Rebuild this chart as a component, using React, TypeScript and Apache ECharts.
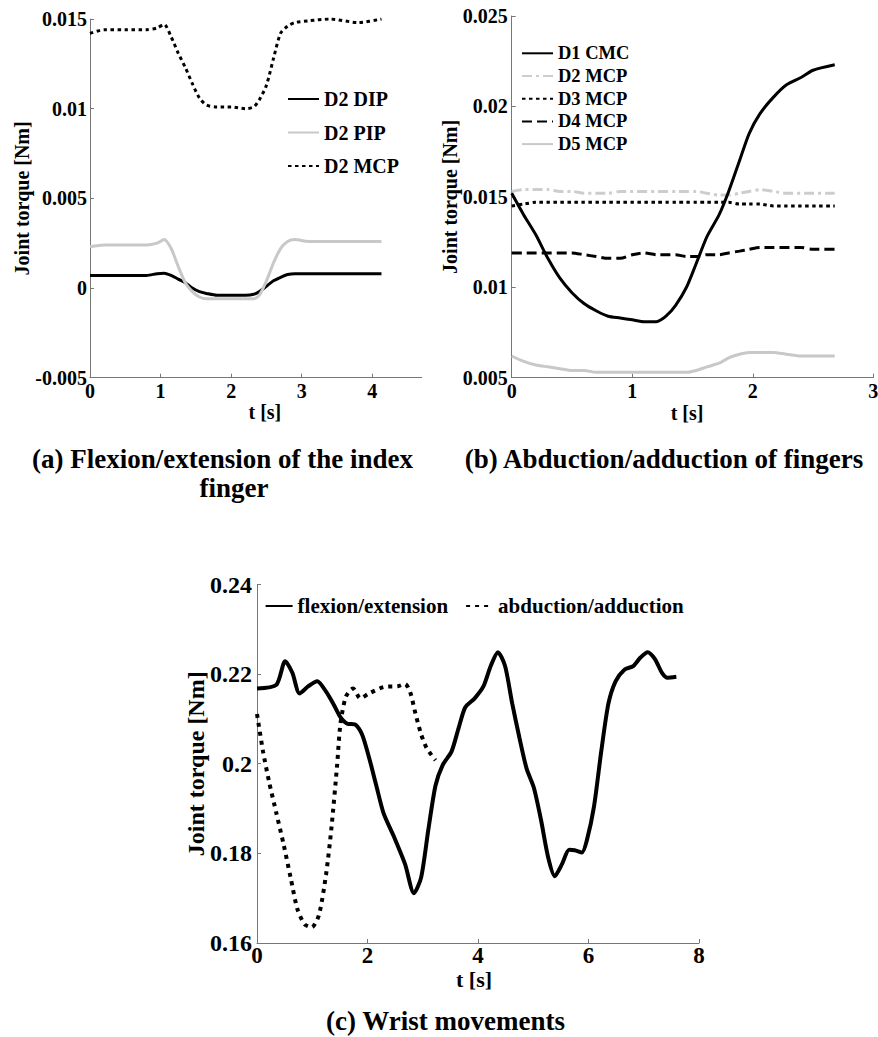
import React, { useEffect, useRef } from "react";
import * as echarts from "echarts";

const FONT = '"Times New Roman", "Liberation Serif", serif';

// ---------- Panel (a): flexion/extension of the index finger ----------
const aTime = [0, 0.2, 0.5, 0.8, 0.95, 1.05, 1.15, 1.25, 1.35, 1.45, 1.55, 1.65, 1.8, 2.0, 2.2, 2.32, 2.4, 2.5, 2.6, 2.7, 2.8, 2.9, 3.1, 3.4, 3.8, 4.13];
const aDIP = [0.0007, 0.0007, 0.0007, 0.0007, 0.0008, 0.00083, 0.0007, 0.0005, 0.0003, 0.0, -0.0002, -0.0003, -0.0004, -0.0004, -0.0004, -0.00035, -0.0002, 0.0001, 0.0004, 0.0006, 0.00075, 0.0008, 0.0008, 0.0008, 0.0008, 0.0008];
const aPIP = [0.0023, 0.0024, 0.0024, 0.0024, 0.0025, 0.0027, 0.0022, 0.0012, 0.0003, -0.0002, -0.0005, -0.0006, -0.0006, -0.0006, -0.0006, -0.0006, -0.0004, 0.0004, 0.0014, 0.0022, 0.0026, 0.0027, 0.0026, 0.0026, 0.0026, 0.0026];
const aMCP = [0.0142, 0.0144, 0.0144, 0.0144, 0.0145, 0.0147, 0.014, 0.0131, 0.0123, 0.0114, 0.0106, 0.0102, 0.0101, 0.0101, 0.01, 0.0101, 0.0105, 0.0113, 0.0128, 0.0142, 0.0146, 0.0148, 0.0149, 0.015, 0.0148, 0.015];
const aXTicks = [0, 1, 2, 3, 4];

// ---------- Panel (b): abduction/adduction of fingers ----------
const bTime = [0, 0.1, 0.2, 0.3, 0.4, 0.5, 0.6, 0.7, 0.8, 0.9, 1.0, 1.1, 1.2, 1.28, 1.36, 1.45, 1.53, 1.62, 1.72, 1.8, 1.89, 1.97, 2.06, 2.17, 2.28, 2.4, 2.5, 2.68];
const bD1CMC = [0.0152, 0.014, 0.0129, 0.0116, 0.0105, 0.0097, 0.0091, 0.0087, 0.0084, 0.0083, 0.0082, 0.0081, 0.0081, 0.0084, 0.009, 0.01, 0.0113, 0.0128, 0.014, 0.0153, 0.017, 0.0185, 0.0196, 0.0205, 0.0212, 0.0216, 0.022, 0.0223];
const bD2MCP = [0.0153, 0.0154, 0.0154, 0.0154, 0.0153, 0.0153, 0.0152, 0.0152, 0.0152, 0.0153, 0.0153, 0.0153, 0.0153, 0.0153, 0.0153, 0.0153, 0.0153, 0.0152, 0.0151, 0.0151, 0.0152, 0.0153, 0.0154, 0.0153, 0.0152, 0.0152, 0.0152, 0.0152];
const bD3MCP = [0.0145, 0.0146, 0.0147, 0.0147, 0.0147, 0.0147, 0.0147, 0.0147, 0.0147, 0.0147, 0.0147, 0.0147, 0.0147, 0.0147, 0.0147, 0.0147, 0.0147, 0.0147, 0.0147, 0.0147, 0.0146, 0.0146, 0.0146, 0.0145, 0.0145, 0.0145, 0.0145, 0.0145];
const bD4MCP = [0.0119, 0.0119, 0.0119, 0.0119, 0.0119, 0.0119, 0.0118, 0.0117, 0.0116, 0.0116, 0.0118, 0.0119, 0.0118, 0.0118, 0.0118, 0.0117, 0.0117, 0.0118, 0.0118, 0.0119, 0.012, 0.0121, 0.0122, 0.0122, 0.0122, 0.0122, 0.0121, 0.0121];
const bD5MCP = [0.0062, 0.0059, 0.0057, 0.0056, 0.0055, 0.0054, 0.0054, 0.0053, 0.0053, 0.0053, 0.0053, 0.0053, 0.0053, 0.0053, 0.0053, 0.0053, 0.0054, 0.0056, 0.0058, 0.0061, 0.0063, 0.0064, 0.0064, 0.0064, 0.0063, 0.0062, 0.0062, 0.0062];

// ---------- Panel (c): wrist movements ----------
const cFlexTime = [0, 0.35, 0.51, 0.64, 0.77, 0.93, 1.09, 1.25, 1.38, 1.51, 1.64, 1.77, 1.9, 2.03, 2.16, 2.29, 2.48, 2.68, 2.84, 2.97, 3.1, 3.23, 3.36, 3.52, 3.65, 3.77, 3.94, 4.1, 4.23, 4.36, 4.49, 4.62, 4.75, 4.88, 5.01, 5.14, 5.27, 5.39, 5.52, 5.65, 5.75, 5.88, 5.97, 6.1, 6.23, 6.36, 6.49, 6.65, 6.81, 6.94, 7.07, 7.2, 7.33, 7.43, 7.59];
const cFlex = [0.2168, 0.2176, 0.2229, 0.2203, 0.2157, 0.2173, 0.2184, 0.2161, 0.2134, 0.2104, 0.2089, 0.2088, 0.2066, 0.2013, 0.1951, 0.189, 0.1837, 0.1776, 0.1711, 0.1746, 0.1852, 0.1951, 0.1997, 0.2027, 0.208, 0.2126, 0.2146, 0.2173, 0.2218, 0.2249, 0.2218, 0.2134, 0.2058, 0.1989, 0.1947, 0.1875, 0.1791, 0.1749, 0.1776, 0.1808, 0.1807, 0.1802, 0.1829, 0.1905, 0.2027, 0.2134, 0.2184, 0.221, 0.2218, 0.2237, 0.2249, 0.2234, 0.2203, 0.2192, 0.2194];
const cAbdTime = [0, 0.11, 0.22, 0.35, 0.48, 0.61, 0.73, 0.86, 0.99, 1.12, 1.25, 1.35, 1.45, 1.51, 1.61, 1.74, 1.87, 2.03, 2.29, 2.55, 2.68, 2.77, 2.87, 2.97, 3.07, 3.23];
const cAbd = [0.2111, 0.2027, 0.1959, 0.189, 0.1821, 0.1745, 0.1676, 0.1642, 0.1635, 0.1662, 0.1753, 0.186, 0.1997, 0.2089, 0.215, 0.2168, 0.2146, 0.2157, 0.2171, 0.2173, 0.2178, 0.2161, 0.2111, 0.2066, 0.2035, 0.2008];

const zip = (t: number[], v: number[]) => t.map((x, i) => [x, v[i]]);

const AXIS_COLOR = "#777";
const BLACK = "#000";
const GRAY = "#c8c8c8";

function axisCommon(fontSize: number) {
  return {
    type: "value",
    nameLocation: "middle",
    nameMoveOverlap: false,
    axisLine: { show: true, onZero: false, lineStyle: { color: AXIS_COLOR, width: 1 } },
    axisTick: { show: true, inside: true, length: 4, lineStyle: { color: AXIS_COLOR } },
    axisLabel: { fontFamily: FONT, fontWeight: "bold", fontSize, color: BLACK },
    splitLine: { show: false },
  } as any;
}

function line(name: string, t: number[], v: number[], color: string, width: number, type: any) {
  return {
    type: "line",
    name,
    data: zip(t, v),
    symbol: "none",
    smooth: 0.25,
    lineStyle: { color, width, type, cap: "butt" },
    itemStyle: { color },
  };
}

function caption(text: string, x: number, y: number) {
  return {
    type: "text",
    style: {
      text,
      x,
      y,
      align: "center",
      verticalAlign: "middle",
      fontFamily: FONT,
      fontWeight: "bold",
      fontSize: 27,
      fill: BLACK,
    },
  };
}

// legend symbol hidden: only the line sample is drawn
const HIDDEN_SYMBOL = { color: "rgba(0,0,0,0)", borderWidth: 0, opacity: 0 };

function optionA() {
  const x = axisCommon(20);
  const y = axisCommon(20);
  return {
    animation: false,
    grid: { left: 90, top: 19, width: 331.7, height: 358.7, containLabel: false, outerBoundsMode: "none" },
    xAxis: {
      ...x,
      min: 0,
      max: 4.7,
      interval: 1,
      name: "t [s]",
      nameGap: 24,
      nameTextStyle: { fontFamily: FONT, fontWeight: "bold", fontSize: 20, color: BLACK, padding: [0, 0, 0, 18] },
      axisTick: { ...x.axisTick, customValues: aXTicks },
      axisLabel: { ...x.axisLabel, margin: 3, customValues: aXTicks },
    },
    yAxis: {
      ...y,
      min: -0.005,
      max: 0.015,
      interval: 0.005,
      name: "Joint torque [Nm]",
      nameGap: 58,
      nameTextStyle: { fontFamily: FONT, fontWeight: "bold", fontSize: 20, color: BLACK },
      axisLabel: { ...y.axisLabel, margin: 3 },
    },
    legend: {
      orient: "vertical",
      left: 287,
      top: 88,
      padding: 0,
      itemWidth: 31,
      itemHeight: 14,
      itemGap: 11.5,
      itemStyle: HIDDEN_SYMBOL,
      textStyle: { fontFamily: FONT, fontWeight: "bold", fontSize: 20, color: BLACK, lineHeight: 22 },
      data: ["D2 DIP", "D2 PIP", "D2 MCP"],
    },
    series: [
      line("D2 DIP", aTime, aDIP, BLACK, 3, "solid"),
      line("D2 PIP", aTime, aPIP, GRAY, 3, "solid"),
      line("D2 MCP", aTime, aMCP, BLACK, 3, [3.5, 3.5]),
    ],
    graphic: [
      caption("(a) Flexion/extension of the index", 222.5, 459),
      caption("finger", 234, 488),
    ],
  };
}

const BX = 439; // left offset of panel (b) container
const TOP_H = 520; // height of the containers of panels (a) and (b)

function optionB() {
  const x = axisCommon(20);
  const y = axisCommon(20);
  return {
    animation: false,
    grid: { left: 511.7 - BX, top: 16, width: 361.6, height: 361.7, containLabel: false, outerBoundsMode: "none" },
    xAxis: {
      ...x,
      min: 0,
      max: 3,
      interval: 1,
      name: "t [s]",
      nameGap: 25,
      nameTextStyle: { fontFamily: FONT, fontWeight: "bold", fontSize: 20, color: BLACK, padding: [0, 11, 0, 0] },
      axisLabel: { ...x.axisLabel, margin: 3 },
    },
    yAxis: {
      ...y,
      min: 0.005,
      max: 0.025,
      interval: 0.005,
      name: "Joint torque [Nm]",
      nameGap: 52,
      nameTextStyle: { fontFamily: FONT, fontWeight: "bold", fontSize: 20, color: BLACK },
      axisLabel: { ...y.axisLabel, margin: 4 },
    },
    legend: {
      orient: "vertical",
      left: 521 - BX,
      top: 43.3,
      padding: 0,
      itemWidth: 31,
      itemHeight: 14,
      itemGap: 2.7,
      itemStyle: HIDDEN_SYMBOL,
      textStyle: { fontFamily: FONT, fontWeight: "bold", fontSize: 18.5, color: BLACK, lineHeight: 20 },
      data: ["D1 CMC", "D2 MCP", "D3 MCP", "D4 MCP", "D5 MCP"],
    },
    series: [
      line("D2 MCP", bTime, bD2MCP, "#cdcdcd", 3, [10, 4, 3, 4]),
      line("D3 MCP", bTime, bD3MCP, BLACK, 3, [3.5, 3.5]),
      line("D4 MCP", bTime, bD4MCP, BLACK, 3, [10, 5]),
      line("D5 MCP", bTime, bD5MCP, GRAY, 3, "solid"),
      line("D1 CMC", bTime, bD1CMC, BLACK, 3, "solid"),
    ],
    graphic: [caption("(b) Abduction/adduction of fingers", 664 - BX, 459)],
  };
}

const CY = 530; // top offset of panel (c) container

function optionC() {
  const x = axisCommon(23);
  const y = axisCommon(24);
  return {
    animation: false,
    grid: { left: 257, top: 584.5 - CY, width: 442, height: 358.5, containLabel: false, outerBoundsMode: "none" },
    xAxis: {
      ...x,
      min: 0,
      max: 8,
      interval: 2,
      name: "t [s]",
      nameGap: 25,
      nameTextStyle: { fontFamily: FONT, fontWeight: "bold", fontSize: 22, color: BLACK, padding: [0, 8, 0, 0] },
      axisLabel: { ...x.axisLabel, margin: 1 },
    },
    yAxis: {
      ...y,
      min: 0.16,
      max: 0.24,
      interval: 0.02,
      name: "Joint torque [Nm]",
      nameGap: 49,
      nameTextStyle: { fontFamily: FONT, fontWeight: "bold", fontSize: 24, color: BLACK },
      axisLabel: { ...y.axisLabel, margin: 5 },
    },
    legend: {
      orient: "horizontal",
      left: 264.6,
      top: 606 - CY - 11,
      padding: 0,
      itemWidth: 27,
      itemHeight: 14,
      itemGap: 17,
      itemStyle: HIDDEN_SYMBOL,
      textStyle: { fontFamily: FONT, fontWeight: "bold", fontSize: 21, color: BLACK, lineHeight: 22 },
      data: ["flexion/extension", "abduction/adduction"],
    },
    series: [
      line("flexion/extension", cFlexTime, cFlex, BLACK, 4, "solid"),
      line("abduction/adduction", cAbdTime, cAbd, BLACK, 4, [4, 5]),
    ],
    graphic: [caption("(c) Wrist movements", 445.5, 1021 - CY)],
  };
}

function Panel({ style, option }: { style: React.CSSProperties; option: () => any }) {
  const ref = useRef<HTMLDivElement>(null);
  useEffect(() => {
    if (!ref.current) return;
    const chart = echarts.init(ref.current, undefined, { renderer: "svg" });
    chart.setOption(option());
    return () => chart.dispose();
  }, [option]);
  return <div ref={ref} style={{ position: "absolute", ...style }} />;
}

export default function App() {
  return (
    <div style={{ position: "absolute", left: 0, top: 0, width: 878, height: 1037, background: "#fff", overflow: "hidden" }}>
      <Panel style={{ left: 0, top: 0, width: 439, height: TOP_H }} option={optionA} />
      <Panel style={{ left: BX, top: 0, width: 439, height: TOP_H }} option={optionB} />
      <Panel style={{ left: 0, top: CY, width: 878, height: 1037 - CY }} option={optionC} />
    </div>
  );
}
